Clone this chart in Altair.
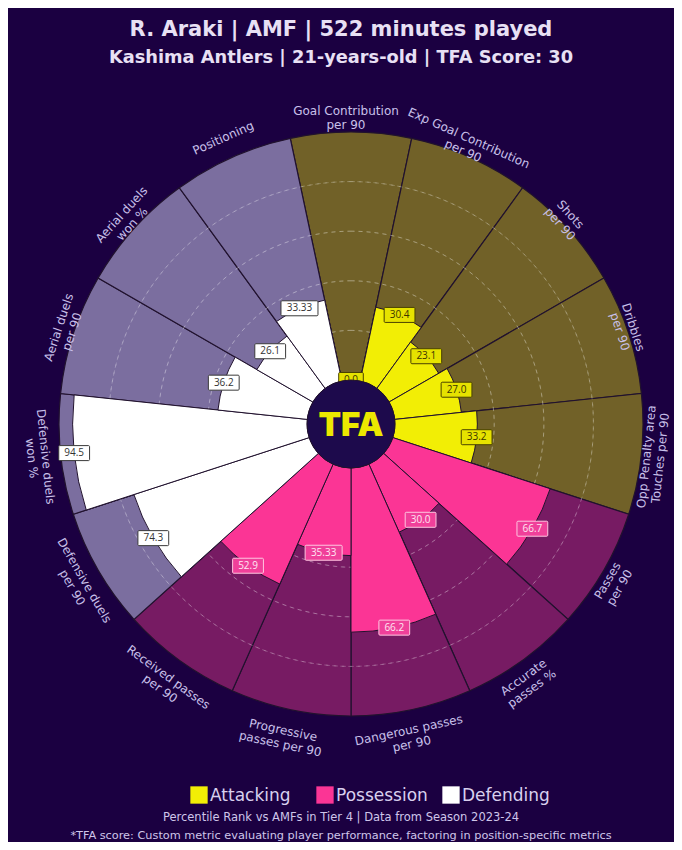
import math
import altair as alt
import pandas as pd

# ---------------- data ----------------
categories = [
    "Goal Contribution\nper 90", "Exp Goal Contribution\nper 90", "Shots\nper 90",
    "Dribbles\nper 90", "Opp Penalty area\nTouches per 90",
    "Passes\nper 90", "Accurate\npasses %", "Dangerous passes\nper 90",
    "Progressive\npasses per 90", "Received passes\nper 90",
    "Defensive duels\nper 90", "Defensive duels\nwon %", "Aerial duels\nper 90",
    "Aerial duels\nwon %", "Positioning",
]
groups = ["Attacking"] * 5 + ["Possession"] * 5 + ["Defending"] * 5
values = [0.0, 30.4, 23.1, 27.0, 33.2, 66.7, 30.0, 66.2, 35.33, 52.9,
          74.3, 94.5, 36.2, 26.1, 33.33]
value_labels = ["0.0", "30.4", "23.1", "27.0", "33.2", "66.7", "30.0", "66.2",
                "35.33", "52.9", "74.3", "94.5", "36.2", "26.1", "33.33"]
group_names = ["Attacking", "Possession", "Defending"]
grid_levels = [20, 40, 60, 80]

title = "R. Araki | AMF | 522 minutes played"
subtitle = "Kashima Antlers | 21-years-old | TFA Score: 30"
note1 = "Percentile Rank vs AMFs in Tier 4 | Data from Season 2023-24"
note2 = "*TFA score: Custom metric evaluating player performance, factoring in position-specific metrics"

# ---------------- style ----------------
W, H = 666, 834
CX, CY = 343, 416
R, HOLE = 292, 44
LCX, LRX, LRY = 338, 302, 313
N = len(categories)
STEP = 360 / N
BG = "#1b0041"
SEP = "#21122e"
TXT = "#e8e0f4"
LBL = "#c9c0ea"
FONT = "DejaVu Sans"
bg_colors = ["#716128", "#771b63", "#7b6e9f"]
bar_colors = ["#f2ee05", "#fb3595", "#ffffff"]

df = pd.DataFrame({
    "idx": list(range(N)),
    "cat": categories,
    "group": groups,
    "value": values,
    "label": value_labels,
})
df["full"] = 100
df["zero"] = 0

off = math.pi / N
theta_scale = alt.Scale(domain=[0, N], range=[-off, 2 * math.pi - off])
r_scale = alt.Scale(type="linear", domain=[0, 100], range=[HOLE, R], zero=False)
color_scale = alt.Scale(domain=group_names, range=bar_colors)

base = alt.Chart(df).transform_calculate(t0="datum.idx", t1="datum.idx + 1")

bg = base.mark_arc(stroke=SEP, strokeWidth=1.2).encode(
    theta=alt.Theta("t0:Q", scale=theta_scale, stack=None),
    theta2="t1:Q",
    radius=alt.Radius("full:Q", scale=r_scale),
    radius2="zero:Q",
    fill=alt.Fill("group:N", scale=alt.Scale(domain=group_names, range=bg_colors), legend=None),
    x=alt.value(CX), y=alt.value(CY),
)

grid = alt.Chart(pd.DataFrame({"lvl": grid_levels})).mark_arc(
    filled=False, fillOpacity=0, stroke="#ffffff", strokeOpacity=0.22,
    strokeWidth=1, strokeDash=[4, 4]
).encode(
    theta=alt.value(0), theta2=alt.value(2 * math.pi),
    radius=alt.Radius("lvl:Q", scale=r_scale), radius2="lvl:Q",
    x=alt.value(CX), y=alt.value(CY),
)

bars = base.mark_arc(stroke=SEP, strokeWidth=1).encode(
    theta=alt.Theta("t0:Q", scale=theta_scale, stack=None),
    theta2="t1:Q",
    radius=alt.Radius("value:Q", scale=r_scale),
    radius2="zero:Q",
    color=alt.Color("group:N", scale=color_scale, legend=None),
    x=alt.value(CX), y=alt.value(CY),
)

center = alt.Chart(pd.DataFrame({"t": ["TFA"]})).mark_arc(fill="#1d0a4c", stroke=SEP).encode(
    theta=alt.value(0), theta2=alt.value(2 * math.pi),
    radius=alt.value(HOLE), radius2=alt.value(0),
    x=alt.value(CX), y=alt.value(CY),
)
center_txt = alt.Chart(pd.DataFrame({"t": ["TFA"]})).mark_text(
    font="Inter", fontWeight=900, fontSize=33, color="#ece800", baseline="middle"
).encode(text="t:N", x=alt.value(CX), y=alt.value(CY + 2))

cat_labels = alt.Chart(df).transform_calculate(
    deg=f"datum.idx * {STEP}",
    a="datum.deg * PI / 180",
    lx=f"{LCX} + {LRX} * sin(datum.a)",
    ly=f"{CY} - {LRY} * cos(datum.a)",
    rot="((datum.deg > 90 && datum.deg < 270) ? datum.deg + 180 : datum.deg) % 360",
).mark_text(
    font=FONT, fontSize=12, color=LBL, lineBreak="\n", align="center", baseline="middle",
    lineHeight=14,
).encode(
    x=alt.X("lx:Q", scale=None, axis=None),
    y=alt.Y("ly:Q", scale=None, axis=None),
    angle=alt.Angle("rot:Q", scale=None),
    text="cat:N",
)


def value_boxes(group, fill, stroke, txt):
    b = alt.Chart(df).transform_filter(alt.datum.group == group).transform_calculate(
        a=f"datum.idx * {STEP} * PI / 180",
        rv=f"{HOLE} + datum.value / 100 * {R - HOLE}",
        bx=f"{CX} + datum.rv * sin(datum.a)",
        by=f"{CY} - datum.rv * cos(datum.a)",
        bw="length(datum.label) * 6.2 + 6",
        x1="datum.bx - datum.bw / 2",
        x2="datum.bx + datum.bw / 2",
        y1="datum.by - 7.5",
        y2="datum.by + 7.5",
    )
    rect = b.mark_rect(fill=fill, stroke=stroke, strokeWidth=1, cornerRadius=1).encode(
        x=alt.X("x1:Q", scale=None, axis=None), x2="x2:Q",
        y=alt.Y("y1:Q", scale=None, axis=None), y2="y2:Q",
    )
    text = b.mark_text(font="Open Sans", fontSize=10, color=txt, baseline="middle").encode(
        x=alt.X("bx:Q", scale=None, axis=None),
        y=alt.Y("by:Q", scale=None, axis=None),
        text="label:N",
    )
    return [rect, text]


boxes = (value_boxes("Attacking", "#e6e200", "#4a4200", "#3c3500")
         + value_boxes("Possession", "#f0409a", "#ffc6e0", "#ffe6f2")
         + value_boxes("Defending", "#ffffff", "#3a3a3a", "#333333"))

# manual legend (colours from the same colour scale as the bars)
leg = alt.Chart(pd.DataFrame({"group": group_names, "i": [0, 1, 2]})).transform_calculate(
    lx="191 + datum.i * 126", tx="datum.lx + 11"
)
leg_sq = leg.mark_square(size=300, opacity=1, filled=True).encode(
    x=alt.X("lx:Q", scale=None, axis=None), y=alt.value(787),
    color=alt.Color("group:N", scale=color_scale, legend=None),
)
leg_txt = leg.mark_text(font=FONT, fontSize=17, color="#d8d0ee", align="left",
                        baseline="middle").encode(
    x=alt.X("tx:Q", scale=None, axis=None), y=alt.value(788), text="group:N"
)


def text_layer(s, y, size, weight="normal", color=TXT, font=FONT):
    return alt.Chart(pd.DataFrame({"t": [s]})).mark_text(
        font=font, fontSize=size, fontWeight=weight, color=color, baseline="middle"
    ).encode(text="t:N", x=alt.value(W / 2), y=alt.value(y))


titles = [
    text_layer(title, 22, 21, "bold"),
    text_layer(subtitle, 50, 17.8, "bold"),
    text_layer(note1, 810, 11.5, color="#cfc6ea"),
    text_layer(note2, 828, 11.3, color="#cfc6ea"),
]

chart = alt.layer(bg, grid, bars, *boxes, center, center_txt, cat_labels,
                  leg_sq, leg_txt, *titles).properties(
    width=W, height=H, background=BG, padding=0, autosize=alt.AutoSizeParams(type="none")
).configure_view(stroke=None)

chart.save("out.html", embed_options={"renderer": "svg", "actions": False})
